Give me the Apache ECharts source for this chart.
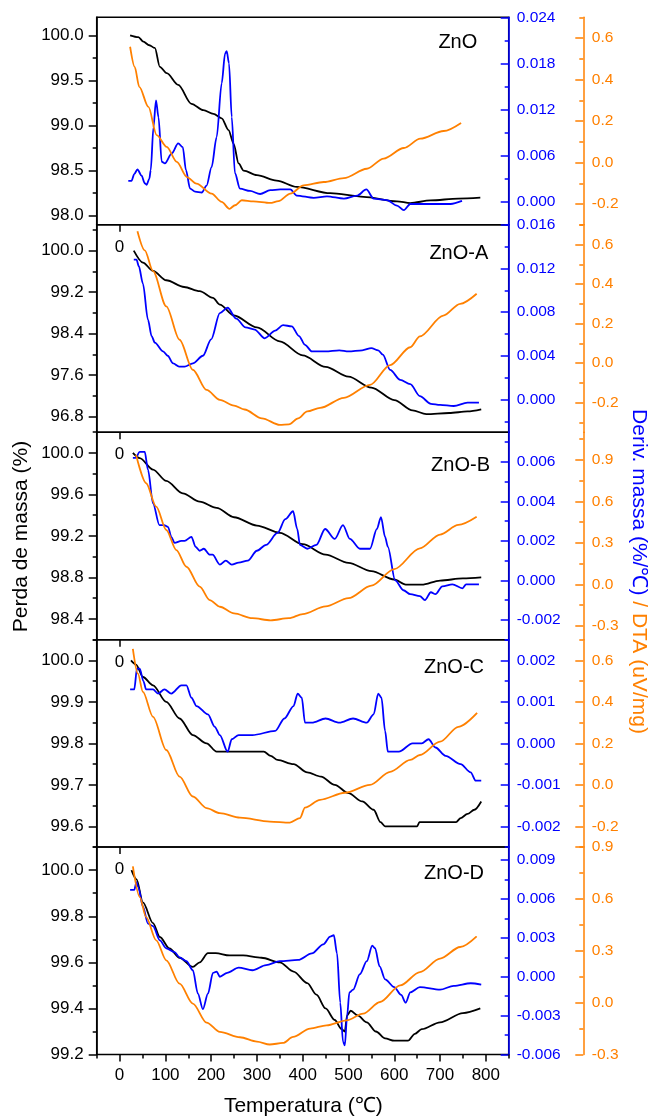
<!DOCTYPE html>
<html><head><meta charset="utf-8">
<script src="https://cdn.jsdelivr.net/npm/echarts@6/dist/echarts.min.js"></script>
<style>html,body{margin:0;padding:0;background:#fff}#c{width:648px;height:1117px}</style>
</head><body><div id="c"></div>
<script>
// ---------------- DATA ----------------
const panelNames = ['ZnO', 'ZnO-A', 'ZnO-B', 'ZnO-C', 'ZnO-D'];

// Panel 1: ZnO
const mass1 = [[23,100.0],[41,99.98],[52,99.93],[65,99.89],[77,99.86],[88,99.65],[103,99.58],[128,99.45],[157,99.24],[183,99.17],[205,99.13],[223,99.08],[238,98.95],[249,98.80],[260,98.58],[271,98.50],[300,98.45],[343,98.39],[387,98.32],[460,98.25],[533,98.21],[606,98.16],[635,98.14],[679,98.17],[740,98.19],[788,98.20]];
const deriv1 = [[19,0.0027],[26,0.0027],[32,0.0036],[39,0.0042],[48,0.0034],[55,0.0024],[59,0.0022],[65,0.0030],[68,0.0041],[74,0.0097],[79.5,0.0132],[85,0.0110],[92,0.0052],[99,0.0050],[114,0.0063],[128,0.0076],[138,0.0071],[145,0.0041],[154,0.0017],[165,0.0013],[179.5,0.0012],[190,0.0021],[201,0.0045],[212,0.0084],[223,0.0154],[230.5,0.0193],[234,0.0196],[239,0.0180],[245,0.0110],[252,0.0037],[263,0.0017],[285,0.0014],[307,0.0010],[329,0.0015],[351,0.0016],[373,0.0016],[387,0.0008],[424,0.0005],[453,0.0007],[490,0.0004],[519,0.0008],[539,0.0016],[555,0.0004],[584,0.0002],[606,-0.0005],[621,-0.0011],[635,-0.0003],[657,-0.0003],[694,-0.0003],[723,-0.0003],[748,0.0001]];
const dta1 = [[23,0.558],[33,0.461],[43,0.365],[63,0.268],[81,0.132],[103,0.075],[125,0.003],[147,-0.070],[168,-0.102],[201,-0.150],[223,-0.190],[240,-0.223],[252,-0.206],[267,-0.182],[292,-0.187],[329,-0.195],[347,-0.186],[373,-0.150],[402,-0.110],[446,-0.094],[490,-0.075],[540,-0.030],[577,0.019],[621,0.070],[657,0.115],[708,0.152],[746,0.191]];

// Panel 2: ZnO-A
const mass2 = [[31,100.0],[51,99.77],[73,99.61],[102,99.43],[141,99.30],[175,99.22],[204,99.09],[219,98.96],[250,98.75],[300,98.52],[350,98.25],[400,97.98],[450,97.76],[500,97.57],[550,97.36],[600,97.12],[640,96.92],[670,96.85],[720,96.87],[760,96.90],[790,96.94]];
const deriv2 = [[31,0.0128],[37,0.0128],[42,0.0122],[51,0.0106],[62,0.0073],[70,0.0058],[77,0.0052],[95,0.0044],[105,0.0040],[117,0.0033],[130,0.0030],[142,0.0030],[160,0.0033],[182,0.0040],[200,0.0055],[219,0.0079],[236,0.0084],[255,0.0074],[275,0.0066],[295,0.0064],[317,0.0056],[340,0.0063],[357,0.0068],[376,0.0067],[392,0.0058],[405,0.0050],[420,0.0044],[450,0.0044],[480,0.0045],[500,0.0044],[530,0.0045],[550,0.0047],[565,0.0045],[575,0.0041],[591,0.0027],[613,0.0018],[635,0.0014],[656,0.0003],[680,-0.0004],[700,-0.0005],[730,-0.0006],[760,-0.0003],[785,-0.0003]];
const dta2 = [[39,0.667],[55,0.57],[73,0.465],[102,0.287],[131,0.118],[160,-0.034],[190,-0.136],[219,-0.186],[250,-0.215],[273,-0.235],[311,-0.28],[350,-0.313],[370,-0.31],[390,-0.28],[410,-0.245],[438,-0.227],[490,-0.176],[547,-0.11],[591,-0.01],[635,0.08],[656,0.135],[707,0.24],[744,0.30],[780,0.351]];

// Panel 3: ZnO-B
const mass3 = [[29,100.0],[44,99.95],[73,99.84],[102,99.73],[138,99.61],[175,99.53],[212,99.47],[250,99.38],[300,99.30],[350,99.23],[400,99.12],[450,99.02],[500,98.94],[550,98.86],[600,98.78],[625,98.73],[660,98.73],[700,98.77],[750,98.79],[790,98.80]];
const deriv3 = [[29,0.0062],[35,0.0062],[44,0.0065],[55,0.0065],[62,0.0056],[73,0.0039],[87,0.0028],[97,0.0028],[106,0.0027],[113,0.0022],[120,0.0019],[135,0.0020],[142,0.0020],[157,0.0022],[166,0.0017],[175,0.0015],[184,0.0016],[197,0.0013],[203,0.0013],[219,0.0008],[232,0.0010],[245,0.0008],[260,0.0009],[280,0.0010],[300,0.0015],[320,0.0018],[345,0.0024],[362,0.0031],[379,0.0035],[388,0.0026],[394,0.0018],[410,0.0016],[430,0.0018],[449,0.0026],[470,0.0021],[488,0.0028],[503,0.0021],[525,0.0016],[547,0.0016],[562,0.0026],[571,0.0032],[580,0.0022],[586,0.0017],[602,0.0000],[620,-0.0005],[635,-0.0007],[656,-0.0008],[667,-0.0010],[680,-0.0006],[690,-0.0007],[705,-0.0003],[727,-0.0002],[749,-0.0004],[757,-0.0002],[785,-0.0002]];
const dta3 = [[36,0.936],[58,0.731],[80,0.562],[102,0.393],[124,0.248],[146,0.127],[175,-0.017],[197,-0.114],[219,-0.162],[250,-0.21],[290,-0.245],[330,-0.26],[370,-0.245],[400,-0.215],[450,-0.16],[500,-0.10],[550,-0.01],[600,0.11],[656,0.26],[700,0.36],[740,0.43],[780,0.489]];

// Panel 4: ZnO-C
const mass4 = [[25,100.0],[36,99.99],[51,99.96],[73,99.94],[102,99.90],[131,99.86],[160,99.82],[190,99.80],[212,99.78],[250,99.78],[315,99.78],[330,99.77],[345,99.76],[380,99.75],[410,99.73],[440,99.72],[470,99.70],[500,99.68],[530,99.66],[555,99.64],[570,99.61],[580,99.60],[650,99.60],[655,99.61],[735,99.61],[745,99.62],[760,99.63],[775,99.64],[790,99.66]];
const deriv4 = [[23,0.0013],[32,0.0013],[38,0.0018],[44,0.0018],[52,0.0015],[58,0.0013],[73,0.0013],[84,0.0012],[98,0.0013],[113,0.0012],[135,0.0014],[146,0.0014],[157,0.0011],[168,0.0009],[193,0.0007],[208,0.0004],[219,0.0002],[236,-0.0002],[245,0.0001],[260,0.0002],[290,0.0002],[340,0.0003],[360,0.0006],[380,0.0009],[389,0.0012],[398,0.0011],[405,0.0005],[420,0.0005],[450,0.0006],[480,0.0005],[510,0.0006],[540,0.0005],[555,0.0007],[565,0.0012],[572,0.0011],[580,0.0003],[586,-0.0002],[610,-0.0002],[640,0.0000],[660,0.0000],[675,0.0001],[690,-0.0001],[712,-0.0003],[745,-0.0005],[767,-0.0007],[778,-0.0009],[790,-0.0009]];
const dta4 = [[29,0.656],[40,0.536],[51,0.448],[73,0.328],[102,0.168],[131,0.04],[160,-0.056],[190,-0.112],[219,-0.136],[263,-0.158],[328,-0.177],[372,-0.182],[394,-0.16],[405,-0.11],[438,-0.072],[492,-0.038],[547,0.0],[591,0.063],[635,0.12],[656,0.144],[700,0.208],[740,0.28],[781,0.347]];

// Panel 5: ZnO-D
const mass5 = [[26,100.0],[37,99.96],[51,99.86],[73,99.77],[88,99.71],[109,99.66],[131,99.62],[160,99.58],[175,99.60],[193,99.64],[210,99.64],[240,99.63],[270,99.63],[310,99.62],[350,99.60],[380,99.56],[410,99.51],[430,99.46],[450,99.40],[470,99.35],[485,99.31],[492,99.30],[497,99.37],[505,99.39],[520,99.37],[540,99.34],[560,99.30],[580,99.27],[600,99.26],[630,99.26],[645,99.29],[660,99.31],[700,99.34],[750,99.38],[788,99.40]];
const deriv5 = [[23,0.0067],[32,0.0067],[37,0.0073],[41,0.0069],[51,0.0054],[62,0.0041],[73,0.0039],[88,0.0028],[102,0.0022],[120,0.0019],[131,0.0015],[146,0.0012],[160,0.0005],[171,-0.0013],[182,-0.0025],[193,-0.0013],[204,0.0003],[212,0.0004],[219,0.0000],[235,0.0003],[260,0.0007],[290,0.0005],[320,0.0009],[350,0.0012],[390,0.0013],[420,0.0018],[445,0.0025],[460,0.0031],[468,0.0032],[475,0.0018],[482,-0.0020],[488,-0.0050],[492,-0.0053],[497,-0.0030],[502,-0.0012],[510,-0.0010],[525,0.0002],[540,0.0012],[552,0.0024],[558,0.0022],[568,0.0008],[580,-0.0002],[600,-0.0008],[615,-0.0014],[625,-0.0020],[635,-0.0012],[656,-0.0008],[700,-0.0010],[730,-0.0007],[767,-0.0005],[790,-0.0006]];
const dta5 = [[29,0.788],[44,0.611],[58,0.495],[80,0.361],[102,0.245],[131,0.11],[160,-0.005],[190,-0.115],[219,-0.169],[263,-0.20],[300,-0.225],[328,-0.242],[357,-0.233],[379,-0.198],[416,-0.15],[452,-0.131],[496,-0.102],[532,-0.063],[569,0.004],[613,0.10],[656,0.177],[700,0.255],[744,0.322],[780,0.384]];

const massData = [mass1, mass2, mass3, mass4, mass5];
const derivData = [deriv1, deriv2, deriv3, deriv4, deriv5];
const dtaData = [dta1, dta2, dta3, dta4, dta5];

// axis ranges and tick labels
const massRange = [[97.9, 100.2], [96.5, 100.5], [98.2, 100.2], [99.55, 100.05], [99.2, 100.1]];
const massTicks = [[98.0, 98.5, 99.0, 99.5, 100.0], [96.8, 97.6, 98.4, 99.2, 100.0], [98.4, 98.8, 99.2, 99.6, 100.0], [99.6, 99.7, 99.8, 99.9, 100.0], [99.2, 99.4, 99.6, 99.8, 100.0]];
const massMinorStep = [0.25, 0.4, 0.2, 0.05, 0.1];
const derivRange = [[-0.003, 0.024], [-0.003, 0.016], [-0.003, 0.0075], [-0.0025, 0.0025], [-0.006, 0.010]];
const derivTicks = [[0.000, 0.006, 0.012, 0.018, 0.024], [0.000, 0.004, 0.008, 0.012, 0.016], [-0.002, 0.000, 0.002, 0.004, 0.006], [-0.002, -0.001, 0.000, 0.001, 0.002], [-0.006, -0.003, 0.000, 0.003, 0.006, 0.009]];
const derivMinorStep = [0.003, 0.002, 0.001, 0.0005, 0.0015];
const dtaRange = [[-0.3, 0.7], [-0.35, 0.7], [-0.4, 1.1], [-0.3, 0.7], [-0.3, 0.9]];
const dtaTicks = [[-0.2, 0.0, 0.2, 0.4, 0.6], [-0.2, 0.0, 0.2, 0.4, 0.6], [-0.3, 0.0, 0.3, 0.6, 0.9], [-0.2, 0.0, 0.2, 0.4, 0.6], [-0.3, 0.0, 0.3, 0.6, 0.9]];
const dtaMinorStep = [0.1, 0.1, 0.15, 0.1, 0.15];
const tempTicks = [0, 100, 200, 300, 400, 500, 600, 700, 800];
const tempRange = [-50, 850];
const tempMinorStep = 50;

// ---------------- LAYOUT / STYLE ----------------
const FONT = '"Liberation Sans", Arial, Helvetica, sans-serif';
const BLACK = '#000000', BLUE = '#0000FF', ORANGE = '#FF8000';
const LEFT = 96.7, PLOT_W = 412, TOP0 = 17.3, PH = 207.45, OFF_O = 74.6;

function minorTicks(range, step) {
  const out = [];
  const s = Math.ceil(range[0] / step - 1e-6), e = Math.floor(range[1] / step + 1e-6);
  for (let k = s; k <= e; k++) out.push(+(k * step).toFixed(6));
  return out;
}
function fmt(d) { return v => (Math.abs(v) < 1e-9 ? 0 : v).toFixed(d); }

const grids = [], xAxes = [], yAxes = [], series = [];
const noSplit = { show: false };

panelNames.forEach((name, i) => {
  const top = TOP0 + i * PH;
  grids.push({ left: LEFT, top: top, width: PLOT_W, height: PH, show: true, borderColor: BLACK, borderWidth: 1.5, backgroundColor: 'transparent' });

  // main x axis (carries data)
  const xi = xAxes.length;
  const isLast = i === panelNames.length - 1;
  xAxes.push({
    gridIndex: i, type: 'value', min: tempRange[0], max: tempRange[1], position: 'bottom',
    axisLine: { show: false, onZero: false }, splitLine: noSplit,
    axisTick: isLast ? { show: true, customValues: tempTicks, length: 7, lineStyle: { color: BLACK, width: 1.5 } } : { show: false },
    axisLabel: isLast ? { show: true, customValues: tempTicks, color: BLACK, fontSize: 17, fontFamily: FONT, margin: 12, formatter: v => String(v) } : { show: false }
  });
  if (isLast) {
    xAxes.push({
      gridIndex: i, type: 'value', min: tempRange[0], max: tempRange[1], position: 'bottom',
      axisLine: { show: false, onZero: false }, splitLine: noSplit,
      axisTick: { show: true, customValues: minorTicks(tempRange, tempMinorStep), length: 4, lineStyle: { color: BLACK, width: 1.5 } },
      axisLabel: { show: false }
    });
  }
  if (i > 0) {
    xAxes.push({
      gridIndex: i, type: 'value', min: tempRange[0], max: tempRange[1], position: 'top',
      axisLine: { show: false, onZero: false }, splitLine: noSplit,
      axisTick: { show: true, inside: true, customValues: [0], length: 7, lineStyle: { color: BLACK, width: 1.5 } },
      axisLabel: { show: true, inside: true, customValues: [0], color: BLACK, fontSize: 17, fontFamily: FONT, margin: 14, formatter: v => String(v) }
    });
  }

  // y axes
  const mk = (pos, offset, range, ticks, step, color, dec, fs, inside, margin) => {
    const major = yAxes.length;
    yAxes.push({
      gridIndex: i, type: 'value', position: pos, offset: offset, min: range[0], max: range[1],
      axisLine: { show: true, onZero: false, lineStyle: { color: color, width: 1.5 } }, splitLine: noSplit,
      axisTick: { show: true, inside: inside, customValues: ticks, length: 8, lineStyle: { color: color, width: 1.5 } },
      axisLabel: { show: true, customValues: ticks, color: color, fontSize: fs, fontFamily: FONT, margin: margin, formatter: fmt(dec) }
    });
    yAxes.push({
      gridIndex: i, type: 'value', position: pos, offset: offset, min: range[0], max: range[1],
      axisLine: { show: false, onZero: false }, splitLine: noSplit,
      axisTick: { show: true, inside: inside, customValues: minorTicks(range, step), length: 4, lineStyle: { color: color, width: 1.5 } },
      axisLabel: { show: false }
    });
    return major;
  };
  const yMass = mk('left', 0, massRange[i], massTicks[i], massMinorStep[i], BLACK, i === 3 || i === 4 ? 1 : 1, 17, false, 13);
  const yDeriv = mk('right', 0, derivRange[i], derivTicks[i], derivMinorStep[i], BLUE, 3, 15.5, true, 8);
  const yDta = mk('right', OFF_O, dtaRange[i], dtaTicks[i], dtaMinorStep[i], ORANGE, 1, 15.5, true, 8.5);

  const line = (data, yi, color, nm) => ({
    type: 'line', name: nm, xAxisIndex: xi, yAxisIndex: yi, data: data, showSymbol: false, symbol: 'none',
    smooth: 0.3, smoothMonotone: 'x', clip: true, lineStyle: { color: color, width: 1.8 }, z: 3
  });
  series.push(line(massData[i], yMass, BLACK, name + ' massa'));
  series.push(line(derivData[i], yDeriv, BLUE, name + ' deriv'));
  series.push(line(dtaData[i], yDta, ORANGE, name + ' DTA'));
});

// panel label positions (right edge, vertical centre)
const labelPos = [[477.3, 42.3], [488.3, 253.3], [490, 465], [484, 667.3], [484, 873.3]];
const graphics = panelNames.map((n, i) => ({
  type: 'text', x: labelPos[i][0], y: labelPos[i][1],
  style: { text: n, fill: BLACK, font: '20px ' + FONT, align: 'right', verticalAlign: 'middle' }
}));
graphics.push({ type: 'text', x: 21, y: 536.5, rotation: Math.PI / 2,
  style: { text: 'Perda de massa (%)', fill: BLACK, font: '21px ' + FONT, align: 'center', verticalAlign: 'middle' } });
graphics.push({ type: 'text', x: 303.3, y: 1106.4,
  style: { text: 'Temperatura (℃)', fill: BLACK, font: '21px ' + FONT, align: 'center', verticalAlign: 'middle' } });
graphics.push({ type: 'text', x: 639, y: 571.5, rotation: -Math.PI / 2,
  style: { text: '{b|Deriv. massa (%/℃)}{o| / DTA (uV/mg)}', align: 'center', verticalAlign: 'middle',
    rich: { b: { fill: BLUE, fontSize: 21, fontFamily: FONT }, o: { fill: ORANGE, fontSize: 21, fontFamily: FONT } } } });

const chart = echarts.init(document.getElementById('c'), null, { renderer: 'canvas', width: 648, height: 1117 });
chart.setOption({
  animation: false,
  backgroundColor: '#ffffff',
  grid: grids, xAxis: xAxes, yAxis: yAxes, series: series, graphic: graphics
});
</script></body></html>
